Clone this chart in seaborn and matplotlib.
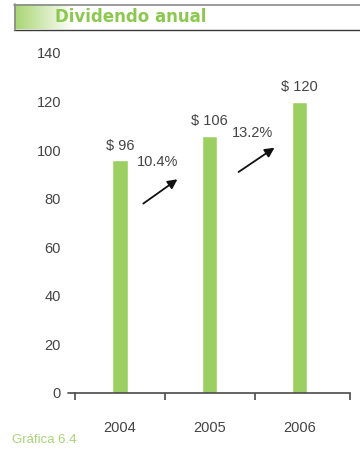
import numpy as np
import pandas as pd
import matplotlib
matplotlib.use("Agg")
import matplotlib.pyplot as plt
import seaborn as sns

# Annual dividend per year
years = ["2004", "2005", "2006"]
dividends = [96, 106, 120]
growth_labels = ["10.4%", "13.2%"]
y_ticks = [0, 20, 40, 60, 80, 100, 120, 140]

sns.set_theme(style="white")
plt.rcParams["font.family"] = ["Liberation Sans", "DejaVu Sans"]

GREEN = "#9ccf62"
TITLE_GREEN = "#8cc84f"
TEXT = "#444444"

df = pd.DataFrame({"year": years, "dividend": dividends})

fig = plt.figure(figsize=(3.6, 4.53), dpi=100)
W, H = 360, 453

def fx(px):
    return px / W

def fy(py):
    return 1 - py / H

# Header banner with green gradient fading to white
grad_ax = fig.add_axes([fx(14), fy(29), fx(60), fy(4) - fy(29)])
grad = np.linspace(0, 1, 256)[None, :]
g_rgb = np.array(matplotlib.colors.to_rgb("#a8d570"))
img = g_rgb[None, None, :] * (1 - grad[..., None]) + np.ones(3)[None, None, :] * grad[..., None]
grad_ax.imshow(img, aspect="auto", extent=[0, 1, 0, 1])
grad_ax.set_axis_off()

fig.add_artist(plt.Line2D([fx(14), fx(360)], [fy(4.5), fy(4.5)], color="#8a8a8a", lw=1.2))
fig.add_artist(plt.Line2D([fx(14), fx(360)], [fy(29.5), fy(29.5)], color="#3a3a3a", lw=1.0))
fig.add_artist(plt.Line2D([fx(14.5), fx(14.5)], [fy(4), fy(30)], color="#8a8a8a", lw=1.2))
fig.text(fx(55), fy(17), "Dividendo anual", color=TITLE_GREEN, fontsize=12,
         fontweight="bold", family=["DejaVu Sans"], ha="left", va="center")

fig.text(fx(12), fy(440), "Gráfica 6.4", color="#a8d47a", fontsize=9.5,
         ha="left", va="center")

# Main bar chart
ax = fig.add_axes([fx(75), fy(393), fx(350) - fx(75), fy(53) - fy(393)])
sns.barplot(data=df, x="year", y="dividend", color=GREEN, width=0.17,
            saturation=1, ax=ax, zorder=2)
ax.set_xlim(-0.5, 2.56)
ax.set_ylim(0, 140)
ax.set_xlabel("")
ax.set_ylabel("")

for s in ["top", "right", "left"]:
    ax.spines[s].set_visible(False)
ax.spines["bottom"].set_color("#4a4a4a")
ax.spines["bottom"].set_linewidth(1.2)
ax.spines["bottom"].set_zorder(3)

ax.set_yticks(y_ticks)
ax.set_yticklabels([str(v) for v in y_ticks], color=TEXT, fontsize=10.5)
ax.tick_params(axis="y", length=0, pad=10)
ax.set_xticks(range(len(years)))
ax.set_xticklabels(years, color=TEXT, fontsize=10.5)
ax.tick_params(axis="x", which="major", length=0, pad=20)
ax.set_xticks([-0.5, 0.5, 1.5, 2.555], minor=True)
ax.tick_params(axis="x", which="minor", bottom=True, length=5, width=1.2,
               color="#4a4a4a", direction="out")

# tick at zero on the value axis
ax.plot([-0.58, -0.5], [0, 0], color="#4a4a4a", lw=1.2, clip_on=False)

for i, v in enumerate(dividends):
    ax.text(i, v + 3, f"$ {v}", ha="center", va="bottom", color=TEXT, fontsize=10.5)

# Growth arrows between years
arrows = [((0.26, 78), (0.64, 88)), ((1.32, 91), (1.72, 101))]
label_pos = [(0.42, 95), (1.47, 107)]
for (start, end), lab, pos in zip(arrows, growth_labels, label_pos):
    ax.annotate("", xy=end, xytext=start,
                arrowprops=dict(arrowstyle="-|>", color="#111111", lw=1.3,
                                mutation_scale=14, shrinkA=0, shrinkB=0))
    ax.text(pos[0], pos[1], lab, ha="center", va="center", color=TEXT, fontsize=10.5)

fig.savefig("out.png", dpi=100)
